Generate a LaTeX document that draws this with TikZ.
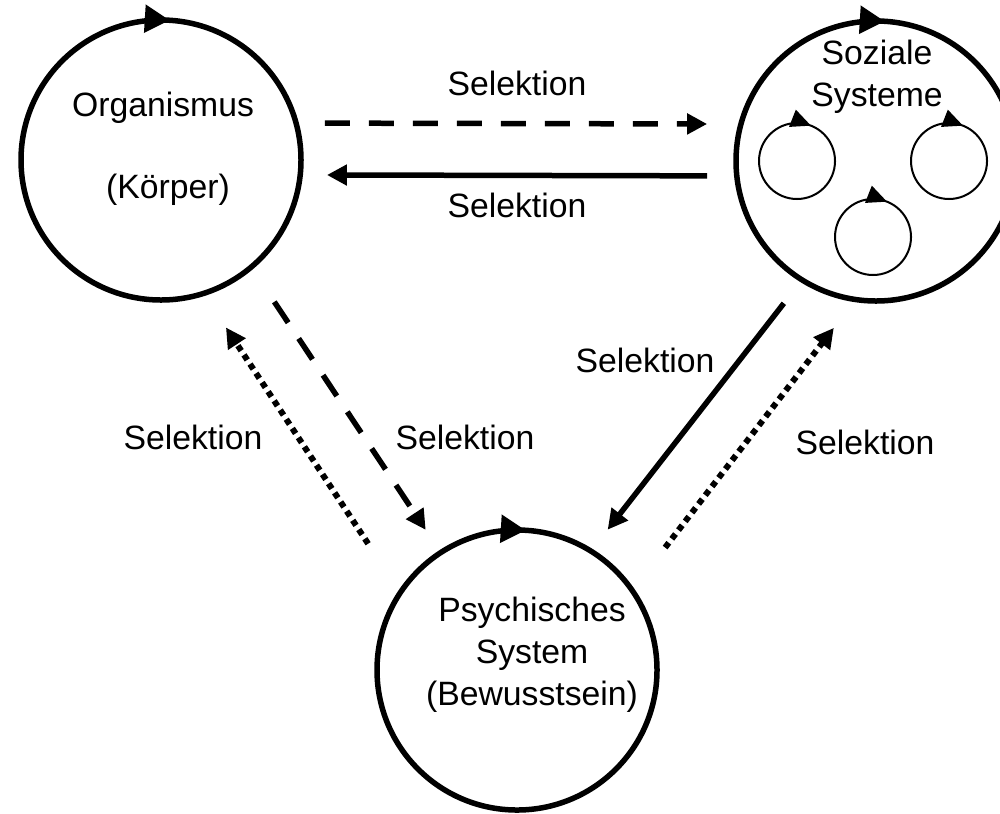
\documentclass[tikz,border=0pt]{standalone}
\usepackage{fontspec}
\setmainfont{Liberation Sans}
\usetikzlibrary{arrows.meta, decorations.markings}

\begin{document}
\begin{tikzpicture}[
    sys/.style={circle, draw, line width=0.055cm, minimum size=2.8cm, inner sep=0pt,
      postaction={decorate, decoration={markings,
        mark=at position 0.24 with {\arrowreversed{Triangle[length=0.25cm, width=0.27cm]}}}}},
    subsys/.style={circle, draw, line width=0.02cm, minimum size=0.76cm, inner sep=0pt,
      postaction={decorate, decoration={markings,
        mark=at position 0.19 with {\arrowreversed{Triangle[length=0.2cm, width=0.18cm]}}}}},
    sel/.style={line width=0.055cm, -{Triangle[length=0.2cm, width=0.2cm]}},
    dashedsel/.style={dash pattern=on 0.25cm off 0.19cm},
    dottedsel/.style={line width=0.06cm, dash pattern=on 0.06cm off 0.05cm},
    txt/.style={font=\fontsize{9.6}{12}\selectfont, align=center, inner sep=0pt}
  ]
  \useasboundingbox (0, 0) rectangle (10, 8.13);

  % Systeme
  \node[sys] (org) at (1.61, 6.53) {};
  \node[sys] (soz) at (8.76, 6.52) {};
  \node[sys] (psy) at (5.17, 1.43) {};

  \node[subsys] (s1) at (7.97, 6.52) {};
  \node[subsys] (s2) at (9.49, 6.52) {};
  \node[subsys] (s3) at (8.73, 5.76) {};

  % Texte
  \node[txt] (orgname) at (1.63, 7.05) {Organismus};
  \node[txt] (orgsub) at (1.68, 6.23) {(Körper)};
  \node[txt] (sozname) at (8.77, 7.36) {Soziale\\Systeme};
  \node[txt] (psyname) at (5.32, 1.58) {Psychisches\\System\\(Bewusstsein)};

  % Selektionen
  \draw[sel, dashedsel, shorten <=0.26cm, shorten >=0.31cm] (org.15) -- (soz.165);
  \draw[sel, shorten <=0.27cm, shorten >=0.24cm] (soz.186) -- (org.-6);
  \draw[sel, dashedsel, shorten <=0.39cm, shorten >=0.245cm] (org.-50.8) -- (psy.123.2);
  \draw[sel, dottedsel, shorten <=0.556cm, shorten >=0.379cm] (psy.146.7) -- (org.-72.4);
  \draw[sel, shorten <=0.269cm, shorten >=0.244cm] (soz.-122.3) -- (psy.58.4);
  \draw[sel, dottedsel, shorten <=0.512cm, shorten >=0.326cm] (psy.35.2) -- (soz.-99.3);

  \node[txt] (sel1) at (5.17, 7.30) {Selektion};
  \node[txt] (sel2) at (5.17, 6.08) {Selektion};
  \node[txt] (sel3) at (1.93, 3.76) {Selektion};
  \node[txt] (sel4) at (4.65, 3.76) {Selektion};
  \node[txt] (sel5) at (6.45, 4.53) {Selektion};
  \node[txt] (sel6) at (8.65, 3.71) {Selektion};
\end{tikzpicture}
\end{document}
